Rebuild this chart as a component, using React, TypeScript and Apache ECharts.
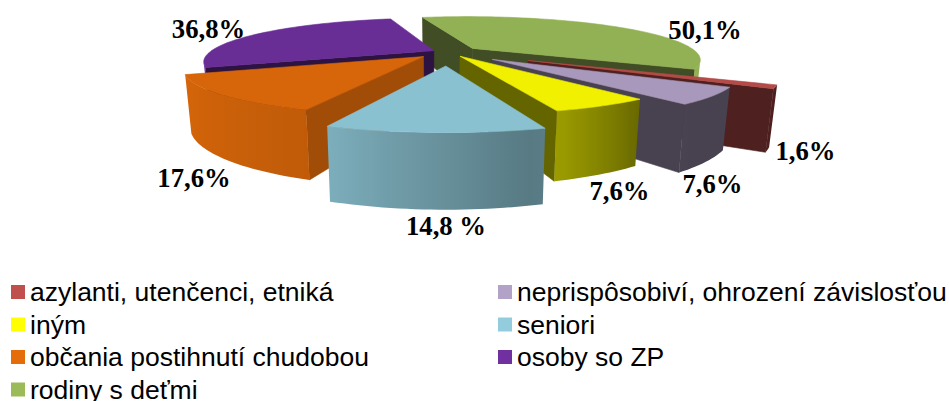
import React, { useEffect, useRef } from "react";
import * as echarts from "echarts";

const categories = [
  "azylanti, utenčenci, etniká",
  "neprispôsobiví, ohrození závislosťou",
  "iným",
  "seniori",
  "občania postihnutí chudobou",
  "osoby so ZP",
  "rodiny s deťmi",
];
const values = [1.6, 7.6, 7.6, 14.8, 17.6, 36.8, 50.1];
const valueLabels = ["1,6%", "7,6%", "7,6%", "14,8 %", "17,6%", "36,8%", "50,1%"];

// styling
const baseColors = ["#C0504D", "#B3A2C7", "#FFFF00", "#93CDDD", "#E46C0A", "#7030A0", "#9BBB59"];
const explosion = [88, 57, 25, 70, 34, 16, 32];
const paintOrder = [3, 4, 5, 7, 6, 2, 1];
const radialShade = [0.43, 0.43, 0.42, 0.63, 0.75, 0.43, 0.44];
const labelCenters = [
  [805.5, 151], [712.5, 184], [619.5, 191], [446, 226], [194, 178], [208.5, 29], [705, 30],
];

// projection of the tilted pie
const START_ANGLE = 117.9;
const RADIUS = 224;
const DEPTH = 900;
const VANISH_X = 445;
const HORIZON_Y = -114;
const PLANE = 166;
const THICK = 52;
const BOTTOM_SCALE = 0.976;
const CENTER_X = 3;

const rad = (d: number) => (d * Math.PI) / 180;
const total = values.reduce((a, b) => a + b, 0);

function top(X: number, Y: number) {
  const w = 1 / (1 - Y / DEPTH);
  return [VANISH_X + X * w, HORIZON_Y + PLANE * w, w];
}
function bottom(X: number, Y: number) {
  const w = 1 / (1 - Y / DEPTH);
  return [VANISH_X + X * w * BOTTOM_SCALE, HORIZON_Y + PLANE * w + THICK * w];
}
function area(p: number[][]) {
  let s = 0;
  for (let i = 0; i < p.length; i++) {
    const a = p[i];
    const b = p[(i + 1) % p.length];
    s += a[0] * b[1] - b[0] * a[1];
  }
  return s;
}
function shadeColor(hex: string, f: number) {
  const n = parseInt(hex.slice(1), 16);
  const c = [(n >> 16) & 255, (n >> 8) & 255, n & 255].map((v) => Math.round(v * f));
  return `rgb(${c[0]},${c[1]},${c[2]})`;
}
const arcShadeStops = [
  [100, 0.42], [132, 0.43], [142, 0.43], [162, 0.65], [165, 0.63], [201, 0.9], [248, 1.0], [300, 1.0],
];
function arcShade(a: number) {
  const s = arcShadeStops;
  if (a <= s[0][0]) return s[0][1];
  for (let i = 1; i < s.length; i++) {
    if (a <= s[i][0]) {
      const t = (a - s[i - 1][0]) / (s[i][0] - s[i - 1][0]);
      return s[i - 1][1] + t * (s[i][1] - s[i - 1][1]);
    }
  }
  return s[s.length - 1][1];
}

function sliceGroup(i: number) {
  const before = values.slice(0, i).reduce((a, b) => a + b, 0);
  const a0 = START_ANGLE + (before / total) * 360;
  const a1 = a0 + (values[i] / total) * 360;
  const mid = rad((a0 + a1) / 2);
  const ax = CENTER_X + explosion[i] * Math.sin(mid);
  const ay = -explosion[i] * Math.cos(mid);
  const N = Math.max(4, Math.ceil((a1 - a0) / 1.5));
  const world: number[][] = [];
  const angs: number[] = [];
  for (let k = 0; k <= N; k++) {
    const a = a0 + ((a1 - a0) * k) / N;
    angs.push(a);
    world.push([ax + RADIUS * Math.sin(rad(a)), ay - RADIUS * Math.cos(rad(a))]);
  }
  const T = world.map((p) => top(p[0], p[1]).slice(0, 2));
  const B = world.map((p) => bottom(p[0], p[1]));
  const apexT = top(ax, ay).slice(0, 2);
  const apexB = bottom(ax, ay);
  const base = baseColors[i];
  const fillTop = shadeColor(base, 0.94);
  const children: any[] = [];
  const poly = (points: number[][], fill: any, stroke?: string) => ({
    type: "polygon",
    shape: { points },
    style: stroke ? { fill, stroke, lineWidth: 0.6 } : { fill },
    silent: true,
  });
  const radialFill = shadeColor(base, 0.94 * radialShade[i]);
  const startQuad = [apexT, T[0], B[0], apexB];
  const endQuad = [apexT, T[N], B[N], apexB];
  if (area(startQuad) < 0) children.push(poly(startQuad, radialFill, radialFill));
  if (area(endQuad) > 0) children.push(poly(endQuad, radialFill, radialFill));

  // the visible part of the curved wall is one polygon with a horizontal gradient
  const vis: number[] = [];
  for (let k = 0; k < N; k++) {
    if (area([T[k], T[k + 1], B[k + 1], B[k]]) < 0) vis.push(k);
  }
  if (vis.length) {
    const first = vis[0];
    const last = vis[vis.length - 1] + 1;
    const tops = T.slice(first, last + 1);
    const bots = B.slice(first, last + 1).reverse();
    const xs = tops.map((p) => p[0]);
    const xMin = Math.min(...xs);
    const xMax = Math.max(...xs);
    const span = Math.max(1, xMax - xMin);
    const stops = [];
    for (let k = first; k <= last; k++) {
      stops.push({
        offset: Math.min(1, Math.max(0, (T[k][0] - xMin) / span)),
        color: shadeColor(base, 0.94 * arcShade(angs[k])),
      });
    }
    stops.sort((p, q) => p.offset - q.offset);
    const fill = new echarts.graphic.LinearGradient(xMin, 0, xMax, 0, stops, true);
    children.push({
      type: "polygon",
      shape: { points: [...tops, ...bots] },
      style: { fill },
      silent: true,
    });
  }
  children.push(poly([apexT, ...T], fillTop, fillTop));
  return { type: "group", children };
}

export default function App() {
  const ref = useRef<HTMLDivElement>(null);
  useEffect(() => {
    const chart = echarts.init(ref.current!, undefined, { renderer: "svg" });
    const legendBase = {
      orient: "vertical",
      padding: 0,
      itemWidth: 14,
      itemHeight: 14,
      itemGap: 2.5,
      selectedMode: false,
      icon: "rect",
      textStyle: {
        fontFamily: "Liberation Sans",
        fontSize: 26.5,
        color: "#000",
        lineHeight: 30,
      },
    };
    chart.setOption({
      animation: false,
      backgroundColor: "#fff",
      legend: [
        { ...legendBase, left: 11, top: 277, data: [0, 2, 4].map((i) => categories[i]) },
        { ...legendBase, left: 11, top: 374.5, data: [categories[6]] },
        { ...legendBase, left: 498, top: 277, data: [1, 3, 5].map((i) => categories[i]) },
      ],
      graphic: valueLabels.map((t, i) => ({
        type: "text",
        z: 100,
        x: labelCenters[i][0],
        y: labelCenters[i][1],
        silent: true,
        style: {
          text: t,
          fill: "#000",
          font: 'bold 26.67px "Liberation Serif"',
          textAlign: "center",
          textVerticalAlign: "middle",
        },
      })),
      series: values.map((v, i) => ({
        type: "custom",
        name: categories[i],
        coordinateSystem: "none",
        z: paintOrder[i],
        silent: true,
        itemStyle: { color: baseColors[i] },
        data: [[v]],
        renderItem: () => sliceGroup(i),
      })),
    });
    return () => chart.dispose();
  }, []);
  return (
    <div
      ref={ref}
      style={{ position: "absolute", left: 0, top: 0, width: 949, height: 401 }}
    />
  );
}
